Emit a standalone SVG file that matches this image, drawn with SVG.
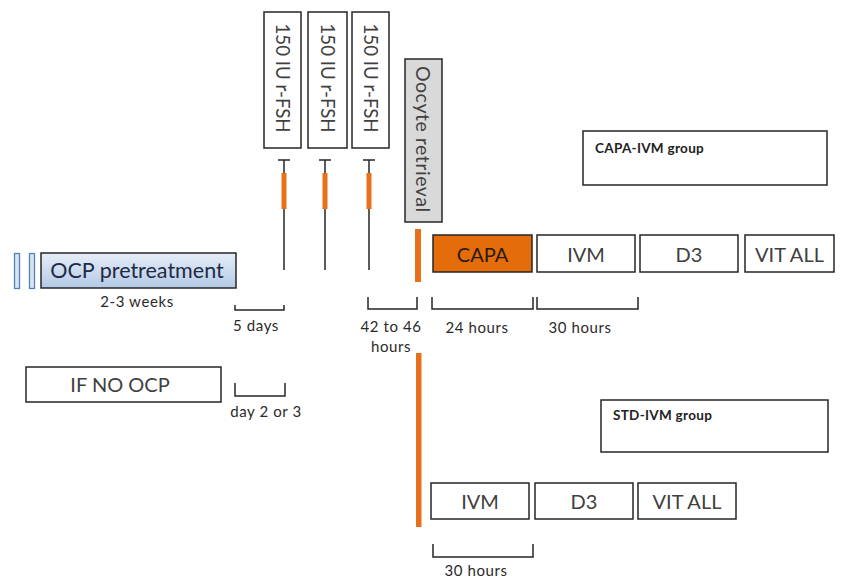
<svg xmlns="http://www.w3.org/2000/svg" width="843" height="581" viewBox="0 0 843 581">
<defs>
<linearGradient id="ocpg" x1="0" y1="0" x2="0" y2="1">
<stop offset="0" stop-color="#e6eef8"/>
<stop offset="1" stop-color="#b4c9e6"/>
</linearGradient>
</defs>
<style>
.box{fill:#fff;stroke:#262626;stroke-width:1.5}
.lbl{font-family:Lato,"Liberation Sans",sans-serif;font-size:20px;fill:#404040;text-anchor:middle;dominant-baseline:central}
.sm{font-family:Lato,"Liberation Sans",sans-serif;font-size:15px;letter-spacing:0.6px;fill:#2a2a2a;text-anchor:middle}
.grp{font-family:Lato,"Liberation Sans",sans-serif;font-size:13.5px;letter-spacing:0.3px;font-weight:bold;fill:#222}
.ln{stroke:#262626;stroke-width:1.5;fill:none}
.or{fill:#e8701a}
</style>
<rect x="0" y="0" width="843" height="581" fill="#fff"/>

<g id="ocp-bars">
<rect x="14.5" y="253.5" width="5" height="35" fill="#dbe5f1" stroke="#4f81bd" stroke-width="1.3"/>
<rect x="29.5" y="253.5" width="5" height="35" fill="#dbe5f1" stroke="#4f81bd" stroke-width="1.3"/>
</g>
<g id="ocp">
<rect x="41" y="253" width="195" height="35" fill="url(#ocpg)" stroke="#262626" stroke-width="1.5"/>
<text class="lbl" x="137" y="270" style="font-size:21.5px;fill:#1f2a44">OCP pretreatment</text>
</g>
<g id="ifnoocp">
<rect class="box" x="26" y="367" width="195" height="35"/>
<text class="lbl" x="120" y="384">IF NO OCP</text>
</g>

<g id="fsh1">
<rect class="box" x="264" y="12" width="37" height="136"/>
<text class="lbl" transform="translate(282.5 78) rotate(90)" x="0" y="0" style="font-size:18.7px">150 IU r-FSH</text>
</g>
<g id="fsh2">
<rect class="box" x="308" y="12" width="39" height="136"/>
<text class="lbl" transform="translate(327.5 78) rotate(90)" x="0" y="0" style="font-size:18.7px">150 IU r-FSH</text>
</g>
<g id="fsh3">
<rect class="box" x="352" y="12" width="37" height="136"/>
<text class="lbl" transform="translate(370.5 78) rotate(90)" x="0" y="0" style="font-size:18.7px">150 IU r-FSH</text>
</g>
<g id="retrieval">
<rect x="405" y="59" width="37" height="163" fill="#d9d9d9" stroke="#262626" stroke-width="1.5"/>
<text class="lbl" transform="translate(423.5 139) rotate(90)" x="0" y="0" textLength="146" lengthAdjust="spacing" style="font-size:19.5px">Oocyte retrieval</text>
</g>

<g id="capa">
<rect x="433" y="235" width="99" height="37" fill="#e46c0a" stroke="#262626" stroke-width="1.5"/>
<text class="lbl" x="482.5" y="253.5" style="fill:#2a1a0a">CAPA</text>
</g>
<g id="ivm1">
<rect class="box" x="537" y="235" width="98" height="37"/>
<text class="lbl" x="586" y="253.5">IVM</text>
</g>
<g id="d3a">
<rect class="box" x="640" y="235" width="98" height="37"/>
<text class="lbl" x="689" y="253.5">D3</text>
</g>
<g id="vit1">
<rect class="box" x="745" y="235" width="89" height="37"/>
<text class="lbl" x="789.5" y="253.5">VIT ALL</text>
</g>
<g id="capa-group">
<rect class="box" x="583" y="131" width="244" height="54"/>
<text class="grp" x="595" y="153">CAPA-IVM group</text>
</g>

<g id="ivm2">
<rect class="box" x="431" y="483" width="98" height="36"/>
<text class="lbl" x="480" y="501">IVM</text>
</g>
<g id="d3b">
<rect class="box" x="535" y="483" width="98" height="36"/>
<text class="lbl" x="584" y="501">D3</text>
</g>
<g id="vit2">
<rect class="box" x="638" y="483" width="98" height="36"/>
<text class="lbl" x="687" y="501">VIT ALL</text>
</g>
<g id="std-group">
<rect class="box" x="601" y="400" width="227" height="52"/>
<text class="grp" x="613" y="420">STD-IVM group</text>
</g>

<g id="connectors">
<path class="ln" d="M278 160H290M284 160V270"/>
<path class="ln" d="M319 160H331M325 160V270"/>
<path class="ln" d="M363 160H375M369 160V270"/>
<rect class="or" x="281.5" y="173" width="5" height="36"/>
<rect class="or" x="322.5" y="173" width="5" height="36"/>
<rect class="or" x="366.5" y="173" width="5" height="36"/>
<rect class="or" x="415" y="229" width="6" height="53"/>
<rect class="or" x="416" y="353" width="5.5" height="174"/>
<path class="ln" d="M235 305V310H284V305"/>
<path class="ln" d="M235 383V396H285V383"/>
<path class="ln" d="M368 297V309H417V297"/>
<path class="ln" d="M432 297V309H533V297"/>
<path class="ln" d="M537 297V309H638V297"/>
<path class="ln" d="M433 544V557H533V544"/>
</g>

<g id="labels">
<text class="sm" x="137" y="307">2-3 weeks</text>
<text class="sm" x="256" y="331">5 days</text>
<text class="sm" x="266" y="417">day 2 or 3</text>
<text class="sm" x="391" y="332">42 to 46</text>
<text class="sm" x="391" y="352">hours</text>
<text class="sm" x="477" y="333">24 hours</text>
<text class="sm" x="580" y="333">30 hours</text>
<text class="sm" x="476" y="576">30 hours</text>
</g>
</svg>
